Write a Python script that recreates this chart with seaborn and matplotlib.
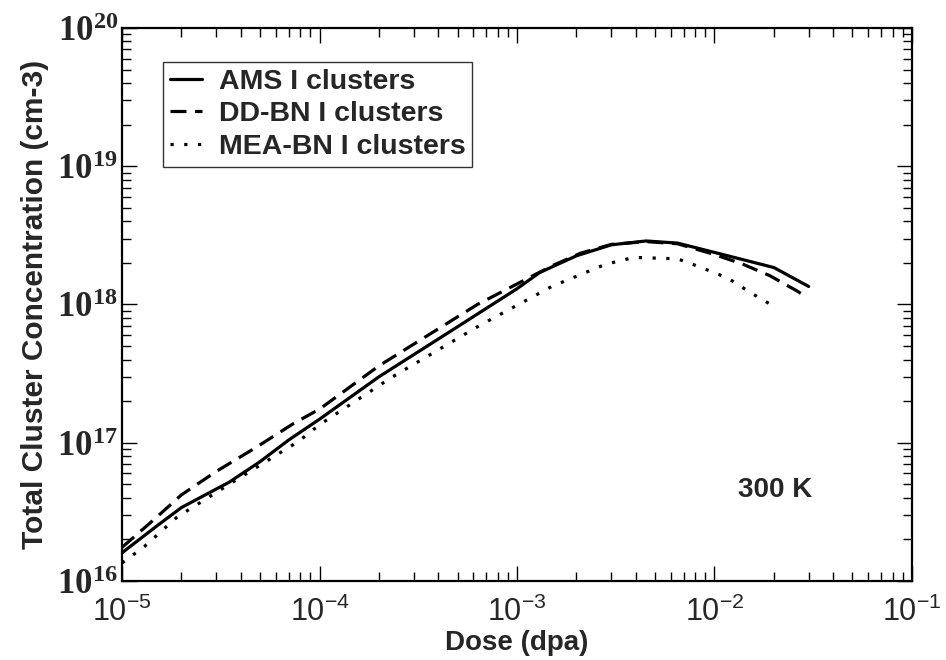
import numpy as np
import pandas as pd
import seaborn as sns
import matplotlib
matplotlib.use("Agg")
import matplotlib.pyplot as plt
from matplotlib.ticker import FuncFormatter, LogLocator, NullFormatter
from matplotlib.lines import Line2D

# ---- data ----
ams_dose = [1e-5, 1.5e-5, 2e-5, 3.5e-5, 5e-5, 7e-5, 1e-4, 2e-4, 5e-4, 1e-3, 1.3e-3,
            2e-3, 3e-3, 4.5e-3, 6.5e-3, 1.1e-2, 2e-2, 3e-2]
ams_conc = [1.6e16, 2.5e16, 3.4e16, 5.2e16, 7.3e16, 1.05e17, 1.48e17, 3.0e17, 6.9e17,
            1.3e18, 1.7e18, 2.25e18, 2.7e18, 2.88e18, 2.78e18, 2.3e18, 1.85e18, 1.35e18]

dd_dose = [1e-5, 1.5e-5, 2e-5, 3e-5, 4.8e-5, 7.4e-5, 1e-4, 2e-4, 6.3e-4, 1.5e-3, 2.1e-3,
           3e-3, 4.5e-3, 6.5e-3, 1e-2, 1.4e-2, 1.9e-2, 2.6e-2, 2.8e-2]
dd_conc = [1.75e16, 2.9e16, 4.2e16, 6.2e16, 9.3e16, 1.38e17, 1.75e17, 3.6e17, 1.0e18,
           1.9e18, 2.35e18, 2.72e18, 2.85e18, 2.75e18, 2.3e18, 1.95e18, 1.62e18, 1.26e18, 1.18e18]

mea_dose = [1e-5, 1.3e-5, 1.9e-5, 3.8e-5, 7.8e-5, 1e-4, 2.3e-4, 6.3e-4, 1.5e-3, 2.8e-3,
            3.9e-3, 6.5e-3, 8.5e-3, 1.17e-2, 1.55e-2, 2.05e-2]
mea_conc = [1.35e16, 1.78e16, 2.9e16, 5.4e16, 1.02e17, 1.35e17, 2.95e17, 6.9e17, 1.35e18,
            1.95e18, 2.19e18, 2.14e18, 1.86e18, 1.55e18, 1.2e18, 9.5e17]

labels = ["AMS I clusters", "DD-BN I clusters", "MEA-BN I clusters"]
x_label = "Dose (dpa)"
y_label = "Total Cluster Concentration (cm-3)"
annotation = "300 K"

df = pd.concat([
    pd.DataFrame({"dose": ams_dose, "conc": ams_conc, "model": labels[0]}),
    pd.DataFrame({"dose": dd_dose, "conc": dd_conc, "model": labels[1]}),
    pd.DataFrame({"dose": mea_dose, "conc": mea_conc, "model": labels[2]}),
], ignore_index=True)

sns.set_style("ticks")
plt.rcParams["font.family"] = ["Liberation Sans", "DejaVu Sans"]
plt.rcParams["mathtext.fontset"] = "custom"
plt.rcParams["mathtext.bf"] = "Liberation Serif:bold"
plt.rcParams["mathtext.rm"] = "Liberation Serif"
plt.rcParams["mathtext.sf"] = "Liberation Sans"

fig = plt.figure(figsize=(9.46, 6.6), dpi=100)
ax = fig.add_axes([0.129, 0.1197, 0.964 - 0.129, 0.9576 - 0.1197])

sns.lineplot(data=df, x="dose", y="conc", style="model", hue="model",
             palette={l: "black" for l in labels},
             dashes={labels[0]: "", labels[1]: (5, 2.7), labels[2]: (1, 3.3)},
             estimator=None, sort=True, linewidth=2.3, ax=ax, legend=False)

ax.set_xscale("log")
ax.set_yscale("log")
ax.set_xlim(1e-5, 1e-1)
ax.set_ylim(1e16, 1e20)

ax.xaxis.set_major_locator(LogLocator(base=10, numticks=10))
ax.yaxis.set_major_locator(LogLocator(base=10, numticks=10))
ax.xaxis.set_minor_locator(LogLocator(base=10, subs=np.arange(2, 10), numticks=20))
ax.yaxis.set_minor_locator(LogLocator(base=10, subs=np.arange(2, 10), numticks=20))
ax.xaxis.set_minor_formatter(NullFormatter())
ax.yaxis.set_minor_formatter(NullFormatter())
ax.xaxis.set_major_formatter(FuncFormatter(lambda v, p: r"$\mathsf{10^{%d}}$" % round(np.log10(v))))
ax.yaxis.set_major_formatter(FuncFormatter(lambda v, p: r"$\mathbf{10^{%d}}$" % round(np.log10(v))))

ax.tick_params(which="both", direction="in", top=True, right=True, width=1.0, color="black")
ax.tick_params(which="major", length=11)
ax.tick_params(which="minor", length=6.5)
ax.tick_params(axis="x", which="major", labelsize=22, pad=11)
ax.tick_params(axis="y", which="major", labelsize=25, pad=3)
for s in ax.spines.values():
    s.set_linewidth(1.6)
    s.set_color("black")

ax.set_xlabel(x_label, fontsize=20, fontweight="bold", labelpad=2)
ax.set_ylabel(y_label, fontsize=21.5, fontweight="bold", labelpad=6)

ax.text(0.827, 0.165, annotation, transform=ax.transAxes, fontsize=20,
        fontweight="bold", ha="center", va="center")

handles = [
    Line2D([], [], color="black", lw=2.3, linestyle="-"),
    Line2D([], [], color="black", lw=2.3, linestyle=(0, (5, 2.7))),
    Line2D([], [], color="black", lw=2.3, linestyle=(0, (1, 3.3))),
]
leg = ax.legend(handles, labels, loc="upper left", bbox_to_anchor=(0.052, 0.9385),
                borderaxespad=0, fancybox=False, frameon=True, edgecolor="black",
                prop={"size": 20.5, "weight": "bold"}, handlelength=1.1,
                handletextpad=0.6, labelspacing=0.22, borderpad=0.25)
leg.get_frame().set_linewidth(1.0)

fig.savefig("out.png", dpi=100, facecolor="white")
